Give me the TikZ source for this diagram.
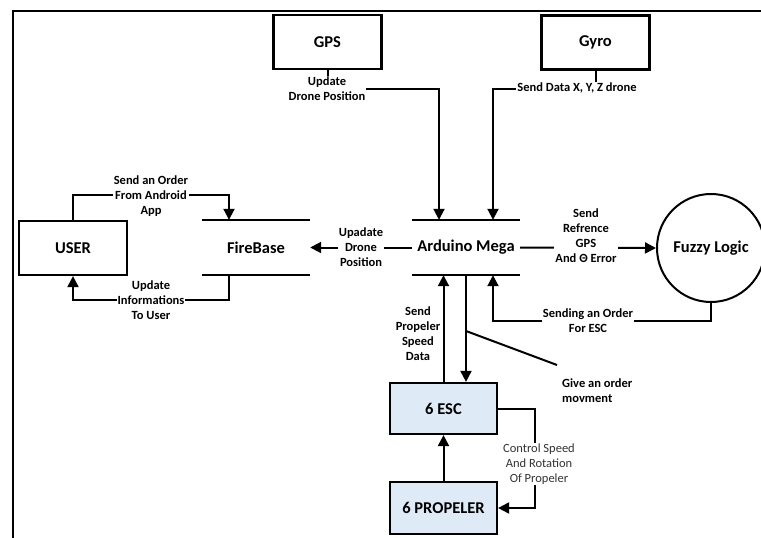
\documentclass[tikz,border=0pt]{standalone}
\usepackage{fontspec}
\setmainfont{Carlito}
\usetikzlibrary{arrows.meta,positioning}
\definecolor{boxblue}{RGB}{222,235,247}
\tikzset{
  conn/.style={line width=2pt},
  arr/.style={conn,-{Triangle[length=11pt,width=11pt]}},
  title/.style={font=\fontsize{16.5}{20}\selectfont\bfseries},
  plainbox/.style={draw,line width=2.2pt,minimum width=108pt,minimum height=54pt,inner sep=0pt,title},
  bluebox/.style={plainbox,fill=boxblue,minimum width=107pt,minimum height=51pt},
  storebox/.style={minimum width=108pt,minimum height=55pt,inner sep=0pt,title},
  lbl/.style={font=\fontsize{12.5}{15}\selectfont\bfseries,align=center,inner sep=1pt},
  lblw/.style={lbl,fill=white},
  lblr/.style={font=\fontsize{12.5}{15}\selectfont,align=center,inner sep=1pt,fill=white,text=black!80}
}
\begin{document}
\begin{tikzpicture}[x=1pt,y=-1pt]
\useasboundingbox (0,0) rectangle (761,538);
\begin{scope}
\clip (0,0) rectangle (761,538);
% frame
\draw[line width=2.2pt] (13,545) -- (13,11) -- (770,11);
% nodes
\node[plainbox] (gps) at (327.5,42) {GPS};
\node[plainbox] (gyro) at (595.5,42.5) {Gyro};
\node[plainbox] (user) at (73,248) {USER};
\node[storebox] (fb) at (256,247.5) {FireBase};
\node[storebox] (ard) at (466,247.5) {Arduino Mega};
\node[draw,circle,line width=2pt,minimum size=108pt,inner sep=0pt,title] (fz) at (711,248) {Fuzzy Logic};
\node[bluebox] (esc) at (443.5,408.5) {6 ESC};
\node[bluebox,minimum height=52pt] (prop) at (443.5,508) {6 PROPELER};
% store lines
\draw[conn] (fb.north west) -- (fb.north east);
\draw[conn] (fb.south west) -- (fb.south east);
\draw[conn] (ard.north west) -- (ard.north east);
\draw[conn] (ard.south west) -- (ard.south east);
% connectors
\draw[arr] (gps.south) -- ++(0,19) -| ([xshift=-27pt]ard.north);
\node[lblw] at (327,88.5) {Update\\Drone Position};
\draw[arr] (gyro.south) -- ++(0,18) -| ([xshift=27pt]ard.north);
\node[lblw] at (577,88) {Send Data X, Y, Z drone};
\draw[arr] (ard.west) -- (fb.east) node[lblw,midway,xshift=0pt] {Upadate\\Drone\\Position};
\draw[arr] (ard.east) -- (fz.west);
\node[lblw] at (586,236) {Send\\Refrence\\GPS\\And Θ Error};
\draw[arr] (fz.south) -- ++(0,18) -| ([xshift=27pt]ard.south);
\node[lblw] at (588,320.5) {Sending an Order\\For ESC};
\draw[arr] (esc.north) -- (esc.north |- ard.south);
\draw[arr] (ard.south) -- (ard.south |- esc.north);
\node[lbl] at (418,334) {Send\\Propeler\\Speed\\Data};
\coordinate (gv) at (466,331);
\coordinate (gvend) at (557,365);
\draw[conn] (gv) -- (gvend);
\node[lbl,align=left,anchor=west] at (561,391) {Give an order\\movment};
\draw[arr] (prop.north) -- (esc.south);
\draw[arr] (esc.east) -- ++(37,0) |- (prop.east);
\node[lblr] at (539,464) {Control Speed\\And Rotation\\Of Propeler};
\draw[arr] (user.north) -- ++(0,-25) -| ([xshift=-27pt]fb.north);
\node[lblw] at (151,196) {Send an Order\\From Android\\App};
\draw[arr] ([xshift=-27pt]fb.south) -- ++(0,25) -| (user.south);
\node[lblw] at (151,300) {Update\\Informations\\To User};
\end{scope}
\end{tikzpicture}
\end{document}
